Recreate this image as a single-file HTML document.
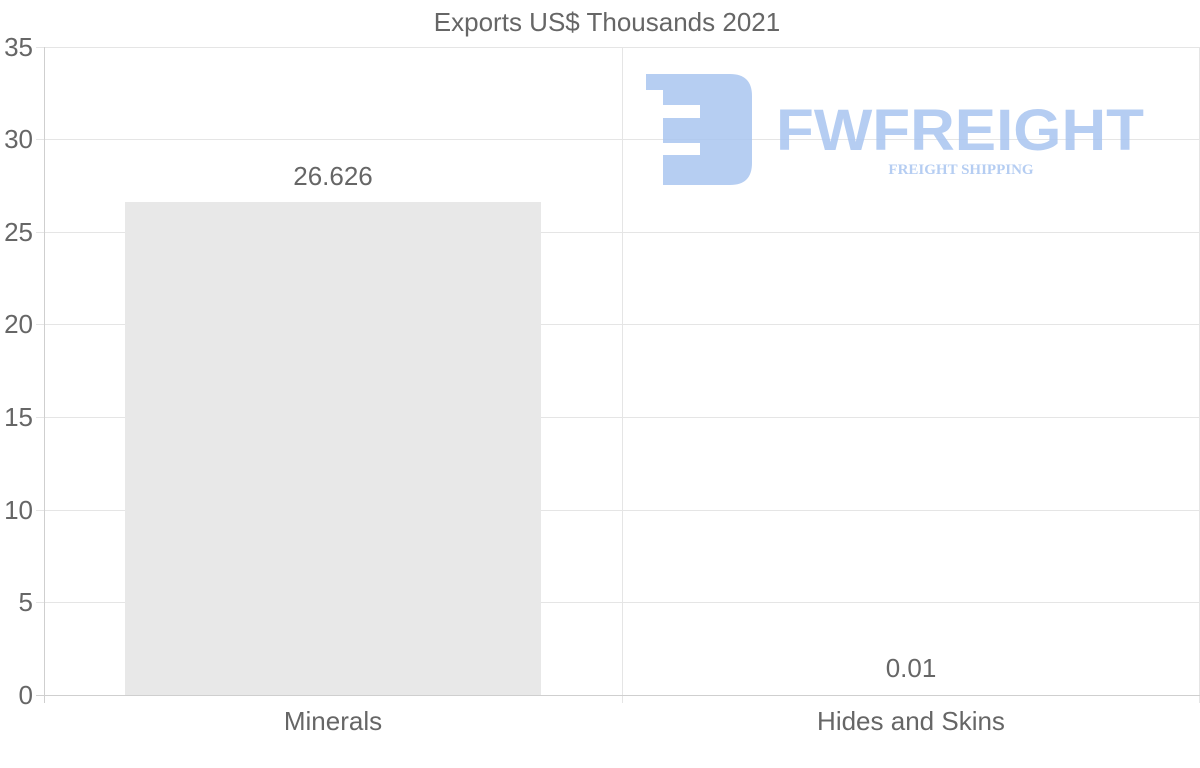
<!DOCTYPE html>
<html><head><meta charset="utf-8"><style>
body{margin:0;background:#fff;}
svg text{font-family:"Liberation Sans",sans-serif;fill:#666;}
</style></head><body>
<svg width="1200" height="763" viewBox="0 0 1200 763" xmlns="http://www.w3.org/2000/svg">
<text x="607" y="31" font-size="26" text-anchor="middle">Exports US$ Thousands 2021</text>
<g stroke="#e5e5e5" stroke-width="1">
<line x1="36" y1="47.5" x2="1200" y2="47.5"/>
<line x1="36" y1="139.5" x2="1200" y2="139.5"/>
<line x1="36" y1="232.5" x2="1200" y2="232.5"/>
<line x1="36" y1="324.5" x2="1200" y2="324.5"/>
<line x1="36" y1="417.5" x2="1200" y2="417.5"/>
<line x1="36" y1="510.5" x2="1200" y2="510.5"/>
<line x1="36" y1="602.5" x2="1200" y2="602.5"/>
<line x1="622.5" y1="47" x2="622.5" y2="703"/>
<line x1="1199.5" y1="47" x2="1199.5" y2="703"/>
</g>
<rect x="125" y="202" width="416" height="493" fill="#e8e8e8"/>
<g stroke="#cfcfcf" stroke-width="1">
<line x1="44.5" y1="47" x2="44.5" y2="703"/>
<line x1="36" y1="695.5" x2="1200" y2="695.5"/>
</g>
<g font-size="26" text-anchor="end">
<text x="33" y="56">35</text><text x="33" y="148">30</text><text x="33" y="241">25</text>
<text x="33" y="333">20</text><text x="33" y="426">15</text><text x="33" y="519">10</text>
<text x="33" y="611">5</text><text x="33" y="704">0</text>
</g>
<g font-size="26" text-anchor="middle">
<text x="333" y="730">Minerals</text><text x="911" y="730">Hides and Skins</text>
<text x="333" y="185">26.626</text><text x="911" y="677">0.01</text>
</g>
<g opacity="0.85">
<path d="M646 74 H730 Q752 74 752 96 V163 Q752 185 730 185 H663 V155 H700 V143 H663 V118 H700 V105 H663 V90 H646 Z" fill="#a9c5f0"/>
<text x="960" y="150" font-size="58" font-weight="bold" text-anchor="middle" style="fill:#a9c5f0" textLength="368" lengthAdjust="spacingAndGlyphs">FWFREIGHT</text>
<text x="961" y="174" font-size="15" font-weight="bold" text-anchor="middle" style="fill:#a9c5f0;font-family:'Liberation Serif',serif">FREIGHT SHIPPING</text>
</g>
</svg>
</body></html>
